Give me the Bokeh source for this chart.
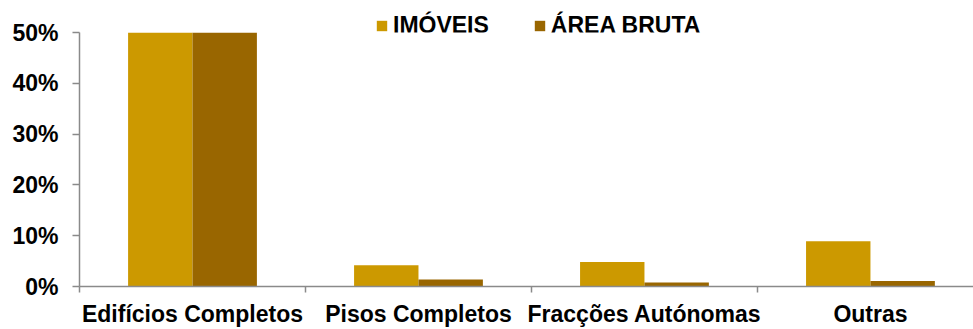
from bokeh.plotting import figure
from bokeh.layouts import column
from bokeh.models import (ColumnDataSource, Range1d, FixedTicker, NumeralTickFormatter,
                          Legend, LegendItem)
from bokeh.embed import file_html
from bokeh.resources import INLINE

# Distribution by property type (share of total, %)
categories = ["Edifícios Completos", "Pisos Completos", "Fracções Autónomas", "Outras"]
imoveis = [82.1, 4.2, 4.8, 8.9]
area_bruta = [96.7, 1.4, 0.8, 1.1]
series_names = ["IMÓVEIS", "ÁREA BRUTA"]
y_ticks = [0, 0.1, 0.2, 0.3, 0.4, 0.5]

COL_IMOVEIS = "#CC9900"
COL_AREA = "#996600"
AXIS_COL = "#8a8a8a"
FONT = "Liberation Sans"
FS = "23px"

bar_w = 0.285
idx = list(range(len(categories)))
centers = [i + 0.5 for i in idx]

src_a = ColumnDataSource(dict(x=[c - bar_w / 2 for c in centers],
                              top=[v / 100 for v in imoveis]))
src_b = ColumnDataSource(dict(x=[c + bar_w / 2 for c in centers],
                              top=[v / 100 for v in area_bruta]))

# ---- main chart ----
p = figure(width=973, height=317,
           x_range=Range1d(0, 3.956), y_range=Range1d(0, 0.5),
           output_backend="svg", toolbar_location=None,
           min_border_left=79, min_border_right=0,
           min_border_top=20, min_border_bottom=41)
p.border_fill_alpha = 0

bar_style = dict(width=bar_w, bottom=0, line_color=None)
p.vbar(x="x", top="top", source=src_a, fill_color=COL_IMOVEIS, **bar_style)
p.vbar(x="x", top="top", source=src_b, fill_color=COL_AREA, **bar_style)

p.outline_line_color = None
p.xgrid.visible = False
p.ygrid.visible = False

# x axis: labels at category centres, tick marks at category boundaries
xa = p.xaxis[0]
xa.ticker = FixedTicker(ticks=centers, minor_ticks=list(range(len(categories) + 1)))
xa.major_label_overrides = {c: name for c, name in zip(centers, categories)}
xa.major_tick_in = 0
xa.major_tick_out = 0
xa.minor_tick_in = 0
xa.minor_tick_out = 6
xa.minor_tick_line_color = AXIS_COL
xa.minor_tick_line_width = 1.5
xa.axis_line_color = AXIS_COL
xa.axis_line_width = 1.5
xa.axis_label_standoff = 0
xa.major_label_text_font = FONT
xa.major_label_text_font_style = "bold"
xa.major_label_text_font_size = FS
xa.major_label_text_color = "black"
xa.major_label_standoff = 8

ya = p.yaxis[0]
ya.ticker = FixedTicker(ticks=y_ticks)
ya.formatter = NumeralTickFormatter(format="0%")
ya.major_tick_in = 0
ya.major_tick_out = 7
ya.minor_tick_in = 0
ya.minor_tick_out = 0
ya.major_tick_line_color = AXIS_COL
ya.major_tick_line_width = 1.5
ya.axis_line_color = AXIS_COL
ya.axis_line_width = 1.5
ya.major_label_text_font = FONT
ya.major_label_text_font_style = "bold"
ya.major_label_text_font_size = FS
ya.major_label_text_color = "black"
ya.major_label_standoff = 14

# ---- legend strip above the chart (overlaps the chart's top border) ----
lg = figure(width=973, height=44, x_range=Range1d(0, 1), y_range=Range1d(0, 1),
            output_backend="svg", toolbar_location=None,
            min_border_left=0, min_border_right=0, min_border_top=0, min_border_bottom=0,
            x_axis_location=None, y_axis_location=None)
lg.margin = (0, 0, -32, 0)
lg.outline_line_color = None
lg.xgrid.visible = False
lg.ygrid.visible = False
la = lg.vbar(x="x", top="top", source=src_a, fill_color=COL_IMOVEIS, **bar_style)
lb = lg.vbar(x="x", top="top", source=src_b, fill_color=COL_AREA, **bar_style)
la.visible = False
lb.visible = False

legend = Legend(items=[LegendItem(label=series_names[0], renderers=[la]),
                       LegendItem(label=series_names[1], renderers=[lb])],
                orientation="horizontal", location=(296, 5),
                glyph_width=13, glyph_height=13, label_standoff=5, spacing=44,
                padding=0, margin=0, border_line_color=None,
                background_fill_alpha=0, click_policy="none",
                label_text_font=FONT, label_text_font_style="bold",
                label_text_font_size=FS, label_text_color="black")
lg.add_layout(legend, "center")

layout = column(lg, p, spacing=0)
open("out.html", "w").write(file_html(layout, INLINE))
